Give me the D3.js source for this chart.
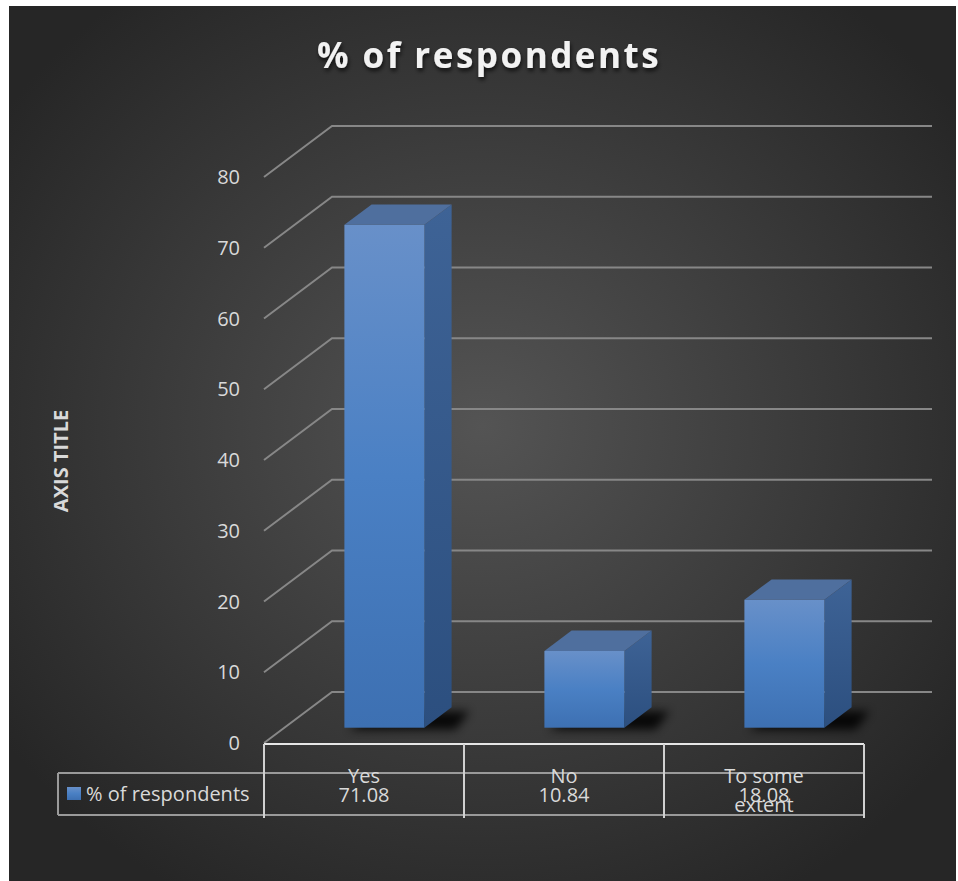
<!DOCTYPE html>
<html>
<head>
<meta charset="utf-8">
<script src="https://cdn.jsdelivr.net/npm/d3@7"></script>
<style>
  html, body { margin: 0; padding: 0; background: #fff; }
  svg { display: block; }
  text { font-family: "Open Sans", "Noto Sans", sans-serif; }
</style>
</head>
<body>
<div id="chart"></div>
<script>
// data
var categories = ["Yes", "No", "To some extent"];
var catLines = [["Yes"], ["No"], ["To some", "extent"]];
var values = [71.08, 10.84, 18.08];
var valueLabels = ["71.08", "10.84", "18.08"];
var yTicks = [0, 10, 20, 30, 40, 50, 60, 70, 80];
var seriesName = "% of respondents";

var W = 958, H = 881;
var svg = d3.select("#chart").append("svg").attr("width", W).attr("height", H);
var defs = svg.append("defs");

// background
var bg = defs.append("radialGradient").attr("id", "bg")
  .attr("cx", "50%").attr("cy", "48%").attr("r", "62%");
bg.append("stop").attr("offset", "0%").attr("stop-color", "#545454");
bg.append("stop").attr("offset", "100%").attr("stop-color", "#262626");
svg.append("rect").attr("x", 9).attr("y", 6).attr("width", 947).attr("height", 875)
  .attr("fill", "url(#bg)");

// bar gradients
var gFront = defs.append("linearGradient").attr("id", "gFront").attr("x1", 0).attr("y1", 0).attr("x2", 0).attr("y2", 1);
gFront.append("stop").attr("offset", "0%").attr("stop-color", "#6890c9");
gFront.append("stop").attr("offset", "50%").attr("stop-color", "#4a80c4");
gFront.append("stop").attr("offset", "100%").attr("stop-color", "#3d70b2");
var gSide = defs.append("linearGradient").attr("id", "gSide").attr("x1", 0).attr("y1", 0).attr("x2", 0).attr("y2", 1);
gSide.append("stop").attr("offset", "0%").attr("stop-color", "#3e6396");
gSide.append("stop").attr("offset", "100%").attr("stop-color", "#2c4f7f");

var blur = defs.append("filter").attr("id", "blur").attr("x", "-50%").attr("y", "-50%").attr("width", "200%").attr("height", "200%");
blur.append("feGaussianBlur").attr("stdDeviation", 5);

var tshadow = defs.append("filter").attr("id", "tshadow").attr("x", "-10%").attr("y", "-30%").attr("width", "120%").attr("height", "160%");
tshadow.append("feDropShadow").attr("dx", 1).attr("dy", 3).attr("stdDeviation", 2)
  .attr("flood-color", "#000").attr("flood-opacity", 0.7);

// scales
var x0 = 264, x1 = 864, depthX = 68, depthY = -51, wallRight = 932;
var y = d3.scaleLinear().domain([0, 80]).range([743, 177]);
var x = d3.scaleBand().domain(categories).range([x0, x1]);

// gridlines (left wall + back wall)
svg.append("g").selectAll("path").data(yTicks).enter().append("path")
  .attr("d", function(d){
    var yy = y(d);
    return "M" + x0 + "," + yy + "L" + (x0 + depthX) + "," + (yy + depthY) + "L" + wallRight + "," + (yy + depthY);
  })
  .attr("fill", "none").attr("stroke", "#878787").attr("stroke-width", 2);

// tick labels
svg.append("g").selectAll("text").data(yTicks).enter().append("text")
  .attr("x", 240).attr("y", function(d){ return y(d); })
  .attr("dy", "0.35em").attr("text-anchor", "end")
  .attr("fill", "#d9d9d9").attr("font-size", 20)
  .text(function(d){ return d; });

// axis title
svg.append("text").attr("transform", "translate(68,461) rotate(-90)")
  .attr("text-anchor", "middle").attr("fill", "#d9d9d9")
  .attr("font-size", 20).attr("font-weight", "bold")
  .text("AXIS TITLE");

// title
svg.append("text").attr("x", 489).attr("y", 68).attr("text-anchor", "middle")
  .attr("fill", "#f2f2f2").attr("font-size", 35).attr("font-weight", "bold")
  .attr("letter-spacing", 2.5).attr("filter", "url(#tshadow)")
  .text(seriesName);

// 3d bars
var bw = x.bandwidth() * 0.4;
var dz0 = 0.3, dz1 = 0.7;
var bars = svg.append("g").selectAll("g").data(values).enter().append("g");

function px(i){ return x(categories[i]) + (x.bandwidth() - bw) / 2 + depthX * dz0; }
var baseY = y(0) + depthY * dz0;
var ddx = depthX * (dz1 - dz0), ddy = depthY * (dz1 - dz0);
var vscale = y(0) - y(1);

// shadow
bars.append("path")
  .attr("d", function(d, i){
    var l = px(i) + 4, r = l + bw + ddx + 6;
    return "M" + l + "," + (baseY + 2) + "L" + (r - 6) + "," + (baseY + 2) + "L" + (r + 8) + "," + (baseY + ddy + 4) + "L" + (l + ddx) + "," + (baseY + ddy + 4) + "Z";
  })
  .attr("fill", "#000").attr("opacity", 0.85).attr("filter", "url(#blur)");

// side
bars.append("path")
  .attr("d", function(d, i){
    var r = px(i) + bw, top = baseY - d * vscale;
    return "M" + r + "," + baseY + "L" + r + "," + top + "L" + (r + ddx) + "," + (top + ddy) + "L" + (r + ddx) + "," + (baseY + ddy) + "Z";
  })
  .attr("fill", "url(#gSide)");

// top
bars.append("path")
  .attr("d", function(d, i){
    var l = px(i), top = baseY - d * vscale;
    return "M" + l + "," + top + "L" + (l + bw) + "," + top + "L" + (l + bw + ddx) + "," + (top + ddy) + "L" + (l + ddx) + "," + (top + ddy) + "Z";
  })
  .attr("fill", "#4f6f9e");

// front
bars.append("rect")
  .attr("x", function(d, i){ return px(i); })
  .attr("y", function(d){ return baseY - d * vscale; })
  .attr("width", bw)
  .attr("height", function(d){ return d * vscale; })
  .attr("fill", "url(#gFront)");

// data table
var tb = svg.append("g");
var rowTop = 744, rowMid = 773, rowBot = 815, legL = 58;
tb.append("line").attr("x1", x0).attr("x2", x1).attr("y1", rowTop).attr("y2", rowTop)
  .attr("stroke", "#e6e6e6").attr("stroke-width", 2);
tb.append("line").attr("x1", legL).attr("x2", x1).attr("y1", rowMid).attr("y2", rowMid)
  .attr("stroke", "#9a9a9a").attr("stroke-width", 2);
tb.append("line").attr("x1", legL).attr("x2", x1).attr("y1", rowBot).attr("y2", rowBot)
  .attr("stroke", "#9a9a9a").attr("stroke-width", 2);
tb.append("line").attr("x1", legL).attr("x2", legL).attr("y1", rowMid).attr("y2", rowBot)
  .attr("stroke", "#9a9a9a").attr("stroke-width", 2);
tb.selectAll("line.v").data(categories.concat(["end"])).enter().append("line")
  .attr("class", "v")
  .attr("x1", function(d, i){ return x0 + i * x.step(); })
  .attr("x2", function(d, i){ return x0 + i * x.step(); })
  .attr("y1", rowTop).attr("y2", 818)
  .attr("stroke", "#d0d0d0").attr("stroke-width", 2);

// category labels
tb.selectAll("text.cat").data(catLines).enter().append("text")
  .attr("class", "cat")
  .attr("x", function(d, i){ return x(categories[i]) + x.bandwidth() / 2; })
  .attr("y", 783).attr("text-anchor", "middle")
  .attr("fill", "#d9d9d9").attr("font-size", 20)
  .each(function(d){
    var t = d3.select(this);
    d.forEach(function(s, k){
      t.append("tspan").attr("x", t.attr("x")).attr("dy", k ? 29 : 0).text(s);
    });
  });

// values
tb.selectAll("text.val").data(valueLabels).enter().append("text")
  .attr("class", "val")
  .attr("x", function(d, i){ return x(categories[i]) + x.bandwidth() / 2; })
  .attr("y", 802).attr("text-anchor", "middle")
  .attr("fill", "#d9d9d9").attr("font-size", 20)
  .text(function(d){ return d; });

// legend
tb.append("rect").attr("x", 67).attr("y", 787).attr("width", 14).attr("height", 13)
  .attr("fill", "url(#gFront)");
tb.append("text").attr("x", 86).attr("y", 801).attr("fill", "#d9d9d9").attr("font-size", 20)
  .text(seriesName);
</script>
</body>
</html>
